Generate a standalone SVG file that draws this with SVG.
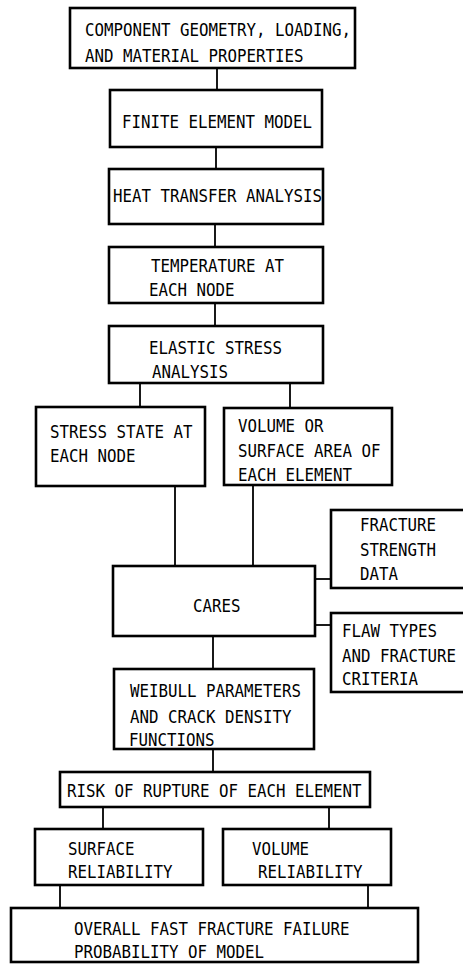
<svg xmlns="http://www.w3.org/2000/svg" width="463" height="964" viewBox="0 0 463 964">
<style>
.box{fill:#fff;stroke:#000;stroke-width:2.6}
.c{stroke:#000;stroke-width:1.8;fill:none}
text{font-family:"DejaVu Sans Mono","Liberation Mono",monospace;font-size:18px;fill:#000}
</style>
<rect width="463" height="964" fill="#fff"/>
<g id="connectors">
<line class="c" x1="217" y1="68" x2="217" y2="90"/>
<line class="c" x1="216" y1="147" x2="216" y2="169"/>
<line class="c" x1="215" y1="224" x2="215" y2="247"/>
<line class="c" x1="215" y1="303" x2="215" y2="326"/>
<line class="c" x1="140" y1="383" x2="140" y2="407"/>
<line class="c" x1="290" y1="383" x2="290" y2="408"/>
<line class="c" x1="175" y1="486" x2="175" y2="566"/>
<line class="c" x1="253" y1="485" x2="253" y2="566"/>
<line class="c" x1="315" y1="579" x2="331" y2="579"/>
<line class="c" x1="315" y1="625" x2="331" y2="625"/>
<line class="c" x1="213" y1="636" x2="213" y2="669"/>
<line class="c" x1="213" y1="749" x2="213" y2="772"/>
<line class="c" x1="103" y1="807" x2="103" y2="829"/>
<line class="c" x1="329" y1="807" x2="329" y2="829"/>
<line class="c" x1="60" y1="885" x2="60" y2="908"/>
<line class="c" x1="368" y1="885" x2="368" y2="908"/>
</g>
<g id="n1"><rect class="box" x="70" y="8" width="285" height="60"/>
<text x="85" y="36" textLength="266" lengthAdjust="spacingAndGlyphs">COMPONENT GEOMETRY, LOADING,</text><text x="85" y="62" textLength="218.5" lengthAdjust="spacingAndGlyphs">AND MATERIAL PROPERTIES</text></g>
<g id="n2"><rect class="box" x="110" y="90" width="212" height="57"/>
<text x="122" y="128" textLength="190" lengthAdjust="spacingAndGlyphs">FINITE ELEMENT MODEL</text></g>
<g id="n3"><rect class="box" x="109" y="169" width="214" height="55"/>
<text x="113" y="202" textLength="209" lengthAdjust="spacingAndGlyphs">HEAT TRANSFER ANALYSIS</text></g>
<g id="n4"><rect class="box" x="109" y="247" width="214" height="56"/>
<text x="151" y="272" textLength="133" lengthAdjust="spacingAndGlyphs">TEMPERATURE AT</text><text x="149" y="296" textLength="85.5" lengthAdjust="spacingAndGlyphs">EACH NODE</text></g>
<g id="n5"><rect class="box" x="109" y="326" width="214" height="57"/>
<text x="149" y="354" textLength="133" lengthAdjust="spacingAndGlyphs">ELASTIC STRESS</text><text x="152" y="378" textLength="76" lengthAdjust="spacingAndGlyphs">ANALYSIS</text></g>
<g id="n6"><rect class="box" x="36" y="407" width="169" height="79"/>
<text x="50" y="438" textLength="142.5" lengthAdjust="spacingAndGlyphs">STRESS STATE AT</text><text x="50" y="462" textLength="85.5" lengthAdjust="spacingAndGlyphs">EACH NODE</text></g>
<g id="n7"><rect class="box" x="224" y="408" width="168" height="77"/>
<text x="238" y="432" textLength="85.5" lengthAdjust="spacingAndGlyphs">VOLUME OR</text><text x="238" y="457" textLength="142.5" lengthAdjust="spacingAndGlyphs">SURFACE AREA OF</text><text x="238" y="481" textLength="114" lengthAdjust="spacingAndGlyphs">EACH ELEMENT</text></g>
<g id="n8"><rect class="box" x="113" y="566" width="202" height="70"/>
<text x="193" y="612" textLength="47.5" lengthAdjust="spacingAndGlyphs">CARES</text></g>
<g id="n9"><rect class="box" x="331" y="510" width="140" height="78"/>
<text x="360" y="531" textLength="76" lengthAdjust="spacingAndGlyphs">FRACTURE</text><text x="360" y="556" textLength="76" lengthAdjust="spacingAndGlyphs">STRENGTH</text><text x="360" y="580" textLength="38" lengthAdjust="spacingAndGlyphs">DATA</text></g>
<g id="n10"><rect class="box" x="331" y="613" width="140" height="79"/>
<text x="342" y="637" textLength="95" lengthAdjust="spacingAndGlyphs">FLAW TYPES</text><text x="342" y="662" textLength="114" lengthAdjust="spacingAndGlyphs">AND FRACTURE</text><text x="342" y="685" textLength="76" lengthAdjust="spacingAndGlyphs">CRITERIA</text></g>
<g id="n11"><rect class="box" x="114" y="669" width="200" height="80"/>
<text x="130" y="697" textLength="171" lengthAdjust="spacingAndGlyphs">WEIBULL PARAMETERS</text><text x="130" y="723" textLength="161.5" lengthAdjust="spacingAndGlyphs">AND CRACK DENSITY</text><text x="129" y="746" textLength="85.5" lengthAdjust="spacingAndGlyphs">FUNCTIONS</text></g>
<g id="n12"><rect class="box" x="60" y="772" width="310" height="35"/>
<text x="67" y="797" textLength="294.5" lengthAdjust="spacingAndGlyphs">RISK OF RUPTURE OF EACH ELEMENT</text></g>
<g id="n13"><rect class="box" x="35" y="829" width="168" height="56"/>
<text x="68" y="855" textLength="66.5" lengthAdjust="spacingAndGlyphs">SURFACE</text><text x="68" y="878" textLength="104.5" lengthAdjust="spacingAndGlyphs">RELIABILITY</text></g>
<g id="n14"><rect class="box" x="223" y="829" width="168" height="56"/>
<text x="252" y="855" textLength="57" lengthAdjust="spacingAndGlyphs">VOLUME</text><text x="258" y="878" textLength="104.5" lengthAdjust="spacingAndGlyphs">RELIABILITY</text></g>
<g id="n15"><rect class="box" x="11" y="908" width="407" height="54"/>
<text x="74" y="935" textLength="275.5" lengthAdjust="spacingAndGlyphs">OVERALL FAST FRACTURE FAILURE</text><text x="74" y="958" textLength="190" lengthAdjust="spacingAndGlyphs">PROBABILITY OF MODEL</text></g>
</svg>
